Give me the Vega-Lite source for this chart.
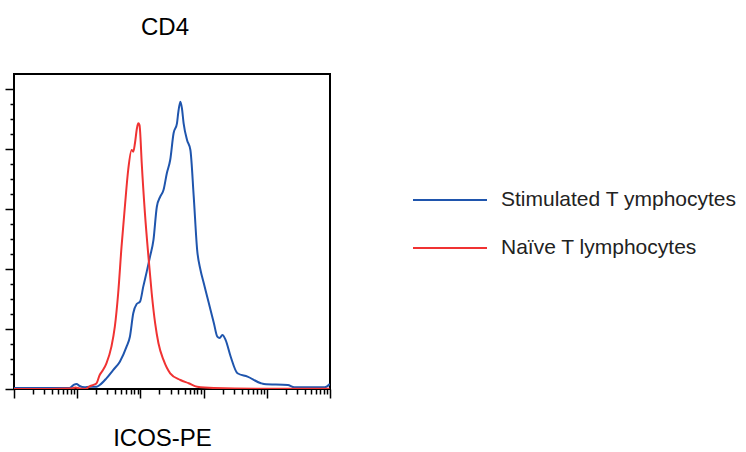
{
  "$schema": "https://vega.github.io/schema/vega-lite/v6.json",
  "autosize": "none",
  "width": 316,
  "height": 315,
  "padding": {"left": 14, "top": 74, "right": 416, "bottom": 63},
  "background": "white",
  "config": {
    "view": {"stroke": "#000", "strokeWidth": 2},
    "font": "Liberation Sans",
    "axis": {"grid": false, "labels": false, "domain": false, "tickColor": "#000", "tickWidth": 1.5}
  },
  "title": {"text": "CD4", "fontSize": 24, "font": "Liberation Sans", "fontWeight": "normal", "color": "#000", "frame": "group", "anchor": "middle", "dx": -7, "baseline": "alphabetic", "offset": 15},
  "datasets": {
    "hist": [
      {"cell": "Stimulated T ymphocytes", "icos": 1, "count": 0.8},
      {"cell": "Stimulated T ymphocytes", "icos": 2.51, "count": 0.8},
      {"cell": "Stimulated T ymphocytes", "icos": 7.53, "count": 0.8},
      {"cell": "Stimulated T ymphocytes", "icos": 8.73, "count": 3.3},
      {"cell": "Stimulated T ymphocytes", "icos": 9.75, "count": 4.2},
      {"cell": "Stimulated T ymphocytes", "icos": 10.9, "count": 2.5},
      {"cell": "Stimulated T ymphocytes", "icos": 13.1, "count": 1.4},
      {"cell": "Stimulated T ymphocytes", "icos": 15.7, "count": 1.9},
      {"cell": "Stimulated T ymphocytes", "icos": 20.3, "count": 1.9},
      {"cell": "Stimulated T ymphocytes", "icos": 22.7, "count": 3.3},
      {"cell": "Stimulated T ymphocytes", "icos": 29.0, "count": 8.9},
      {"cell": "Stimulated T ymphocytes", "icos": 37.0, "count": 15.8},
      {"cell": "Stimulated T ymphocytes", "icos": 47.3, "count": 22.8},
      {"cell": "Stimulated T ymphocytes", "icos": 60.4, "count": 35.3},
      {"cell": "Stimulated T ymphocytes", "icos": 68.2, "count": 43.6},
      {"cell": "Stimulated T ymphocytes", "icos": 77.1, "count": 63.1},
      {"cell": "Stimulated T ymphocytes", "icos": 87.3, "count": 70.8},
      {"cell": "Stimulated T ymphocytes", "icos": 98.6, "count": 72.8},
      {"cell": "Stimulated T ymphocytes", "icos": 111, "count": 85.3},
      {"cell": "Stimulated T ymphocytes", "icos": 126, "count": 97.8},
      {"cell": "Stimulated T ymphocytes", "icos": 142, "count": 110.3},
      {"cell": "Stimulated T ymphocytes", "icos": 161, "count": 124.2},
      {"cell": "Stimulated T ymphocytes", "icos": 182, "count": 151.9},
      {"cell": "Stimulated T ymphocytes", "icos": 206, "count": 160.3},
      {"cell": "Stimulated T ymphocytes", "icos": 232, "count": 165.8},
      {"cell": "Stimulated T ymphocytes", "icos": 262, "count": 179.8},
      {"cell": "Stimulated T ymphocytes", "icos": 296, "count": 190.8},
      {"cell": "Stimulated T ymphocytes", "icos": 335, "count": 213.1},
      {"cell": "Stimulated T ymphocytes", "icos": 379, "count": 221.4},
      {"cell": "Stimulated T ymphocytes", "icos": 398, "count": 230.8},
      {"cell": "Stimulated T ymphocytes", "icos": 429, "count": 239.4},
      {"cell": "Stimulated T ymphocytes", "icos": 453, "count": 234.2},
      {"cell": "Stimulated T ymphocytes", "icos": 483, "count": 221.4},
      {"cell": "Stimulated T ymphocytes", "icos": 547, "count": 207.5},
      {"cell": "Stimulated T ymphocytes", "icos": 618, "count": 199.2},
      {"cell": "Stimulated T ymphocytes", "icos": 698, "count": 160.3},
      {"cell": "Stimulated T ymphocytes", "icos": 791, "count": 115.8},
      {"cell": "Stimulated T ymphocytes", "icos": 893, "count": 99.2},
      {"cell": "Stimulated T ymphocytes", "icos": 1007, "count": 88.1},
      {"cell": "Stimulated T ymphocytes", "icos": 1140, "count": 76.9},
      {"cell": "Stimulated T ymphocytes", "icos": 1288, "count": 65.8},
      {"cell": "Stimulated T ymphocytes", "icos": 1455, "count": 54.8},
      {"cell": "Stimulated T ymphocytes", "icos": 1648, "count": 43.6},
      {"cell": "Stimulated T ymphocytes", "icos": 1795, "count": 42.5},
      {"cell": "Stimulated T ymphocytes", "icos": 1982, "count": 45.0},
      {"cell": "Stimulated T ymphocytes", "icos": 2234, "count": 40.8},
      {"cell": "Stimulated T ymphocytes", "icos": 2685, "count": 26.9},
      {"cell": "Stimulated T ymphocytes", "icos": 3436, "count": 13.1},
      {"cell": "Stimulated T ymphocytes", "icos": 4955, "count": 10.3},
      {"cell": "Stimulated T ymphocytes", "icos": 8072, "count": 4.8},
      {"cell": "Stimulated T ymphocytes", "icos": 9016, "count": 4.2},
      {"cell": "Stimulated T ymphocytes", "icos": 21528, "count": 3.3},
      {"cell": "Stimulated T ymphocytes", "icos": 27164, "count": 1.4},
      {"cell": "Stimulated T ymphocytes", "icos": 82604, "count": 1.4},
      {"cell": "Stimulated T ymphocytes", "icos": 99300, "count": 4.2},
      {"cell": "Naïve T lymphocytes", "icos": 1, "count": 0},
      {"cell": "Naïve T lymphocytes", "icos": 3.62, "count": 0},
      {"cell": "Naïve T lymphocytes", "icos": 8.11, "count": 0.4},
      {"cell": "Naïve T lymphocytes", "icos": 9.4, "count": 1.25},
      {"cell": "Naïve T lymphocytes", "icos": 10.9, "count": 0.4},
      {"cell": "Naïve T lymphocytes", "icos": 13.6, "count": 0},
      {"cell": "Naïve T lymphocytes", "icos": 15.7, "count": 2.1},
      {"cell": "Naïve T lymphocytes", "icos": 17.7, "count": 3.3},
      {"cell": "Naïve T lymphocytes", "icos": 20.1, "count": 4.6},
      {"cell": "Naïve T lymphocytes", "icos": 22.7, "count": 11.7},
      {"cell": "Naïve T lymphocytes", "icos": 25.6, "count": 15.8},
      {"cell": "Naïve T lymphocytes", "icos": 29.0, "count": 21.4},
      {"cell": "Naïve T lymphocytes", "icos": 34.8, "count": 35.3},
      {"cell": "Naïve T lymphocytes", "icos": 39.4, "count": 51.9},
      {"cell": "Naïve T lymphocytes", "icos": 44.5, "count": 79.8},
      {"cell": "Naïve T lymphocytes", "icos": 50.3, "count": 118.6},
      {"cell": "Naïve T lymphocytes", "icos": 56.8, "count": 151.9},
      {"cell": "Naïve T lymphocytes", "icos": 64.1, "count": 182.5},
      {"cell": "Naïve T lymphocytes", "icos": 72.6, "count": 199.2},
      {"cell": "Naïve T lymphocytes", "icos": 77.1, "count": 197.8},
      {"cell": "Naïve T lymphocytes", "icos": 82.0, "count": 204.8},
      {"cell": "Naïve T lymphocytes", "icos": 88.3, "count": 217.5},
      {"cell": "Naïve T lymphocytes", "icos": 92.7, "count": 221.4},
      {"cell": "Naïve T lymphocytes", "icos": 96.8, "count": 220.0},
      {"cell": "Naïve T lymphocytes", "icos": 98.6, "count": 215.8},
      {"cell": "Naïve T lymphocytes", "icos": 105, "count": 188.1},
      {"cell": "Naïve T lymphocytes", "icos": 118, "count": 146.4},
      {"cell": "Naïve T lymphocytes", "icos": 134, "count": 110.3},
      {"cell": "Naïve T lymphocytes", "icos": 151, "count": 79.8},
      {"cell": "Naïve T lymphocytes", "icos": 171, "count": 54.8},
      {"cell": "Naïve T lymphocytes", "icos": 193, "count": 38.1},
      {"cell": "Naïve T lymphocytes", "icos": 232, "count": 24.2},
      {"cell": "Naïve T lymphocytes", "icos": 296, "count": 13.1},
      {"cell": "Naïve T lymphocytes", "icos": 429, "count": 7.5},
      {"cell": "Naïve T lymphocytes", "icos": 581, "count": 4.8},
      {"cell": "Naïve T lymphocytes", "icos": 791, "count": 1.9},
      {"cell": "Naïve T lymphocytes", "icos": 1455, "count": 0.8},
      {"cell": "Naïve T lymphocytes", "icos": 8072, "count": 0.2},
      {"cell": "Naïve T lymphocytes", "icos": 98200, "count": 0.2}
    ]
  },
  "data": {"name": "hist"},
  "layer": [
    {
      "mark": {"type": "line", "strokeWidth": 2, "interpolate": "monotone", "clip": true},
      "encoding": {
        "x": {
          "field": "icos", "type": "quantitative",
          "scale": {"type": "log", "domain": [1, 100000], "nice": false},
          "axis": {"orient": "bottom", "values": [1, 10, 100, 1000, 10000, 100000], "tickSize": 9, "title": "ICOS-PE", "titleFontSize": 24, "titleFont": "Liberation Sans", "titleFontWeight": "normal", "titleColor": "#000", "titleBaseline": "alphabetic", "titlePadding": 47, "titleX": 148}
        },
        "y": {
          "field": "count", "type": "quantitative",
          "scale": {"domain": [0, 262.5], "nice": false, "zero": true},
          "axis": {"orient": "left", "values": [0, 50, 100, 150, 200, 250], "tickSize": 9, "title": null}
        },
        "color": {
          "field": "cell", "type": "nominal",
          "scale": {"domain": ["Stimulated T ymphocytes", "Naïve T lymphocytes"], "range": ["#1f55ad", "#f03232"]},
          "legend": {"orient": "none", "legendX": 398, "legendY": 88, "title": null, "symbolType": "stroke", "symbolSize": 5476, "symbolStrokeWidth": 2, "labelFontSize": 21, "labelFont": "Liberation Sans", "labelColor": "#222", "labelOffset": 13, "rowPadding": -3, "padding": 0, "labelLimit": 400}
        }
      }
    },
    {
      "mark": {"type": "line", "opacity": 0},
      "encoding": {
        "x": {
          "field": "icos", "type": "quantitative",
          "axis": {"orient": "bottom", "values": [2,3,4,5,6,7,8,9,20,30,40,50,60,70,80,90,200,300,400,500,600,700,800,900,2000,3000,4000,5000,6000,7000,8000,9000,20000,30000,40000,50000,60000,70000,80000,90000], "tickSize": 5, "title": null}
        },
        "y": {
          "field": "count", "type": "quantitative",
          "axis": {"orient": "left", "values": [12.5,25,37.5,62.5,75,87.5,112.5,125,137.5,162.5,175,187.5,212.5,225,237.5], "tickSize": 4, "title": null}
        },
        "detail": {"field": "cell"}
      }
    }
  ],
  "resolve": {"axis": {"x": "independent", "y": "independent"}}
}
